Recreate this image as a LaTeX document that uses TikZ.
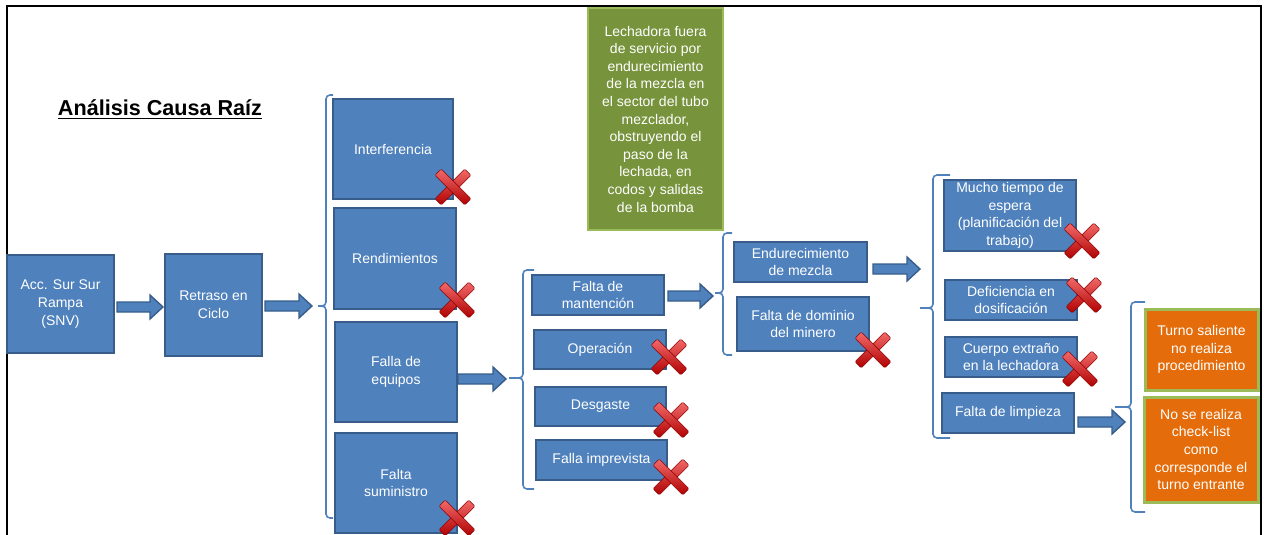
\documentclass[tikz,border=0pt]{standalone}
\usepackage{fontspec}
\setmainfont{Liberation Sans}
\usetikzlibrary{calc}
\definecolor{bxfill}{HTML}{4F81BD}
\definecolor{bxline}{HTML}{385D8A}
\definecolor{grfill}{HTML}{77933C}
\definecolor{grline}{HTML}{9BBB59}
\definecolor{orfill}{HTML}{E46C0A}
\definecolor{xlight}{HTML}{F26A6A}
\definecolor{xdark}{HTML}{B00000}
\definecolor{xedge}{HTML}{8C0000}
\newcommand{\lbracket}[7]{%
  \coordinate (#1) at ({#2-#7},#4);
  \draw[bracket] ({#2+#6},#3) -- (#2,#3) -- (#2,#4) -- (#1);
  \draw[bracket] (#1) -- (#2,#4) -- (#2,#5) -- ({#2+#6},#5);
}
\newcommand{\blockarrow}[2]{%
  \filldraw[barrow] let \p1=#1, \p2=#2 in
    (\x1,\y1+2.5pt) -- (\x2-6.5pt,\y1+2.5pt) -- (\x2-6.5pt,\y1+6pt) -- (\x2,\y1)
    -- (\x2-6.5pt,\y1-6pt) -- (\x2-6.5pt,\y1-2.5pt) -- (\x1,\y1-2.5pt) -- cycle;
}
\begin{document}
\begin{tikzpicture}[x=0.5pt,y=-0.5pt,
  box/.style={draw=bxline, fill=bxfill, line width=0.8pt, text=white, align=center,
    inner sep=0pt, outer sep=0pt, font=\fontsize{7}{8.8}\selectfont},
  greenbox/.style={box, draw=grline, fill=grfill, line width=1pt},
  orangebox/.style={box, draw=grline, fill=orfill, line width=1.5pt},
  bracket/.style={draw=bxfill, line width=0.8pt, rounded corners=2pt},
  barrow/.style={draw=bxline, fill=bxfill, line width=0.7pt, line join=miter},
  xbar/.style={draw=xedge, line width=0.3pt, top color=xlight, bottom color=xdark, rounded corners=0.6pt},
  xmark/.pic={
    \path[xbar, rotate=45] (-10.5pt,-2.2pt) rectangle (10.5pt,2.2pt);
    \path[xbar, rotate=-45] (-10.5pt,-2.2pt) rectangle (10.5pt,2.2pt);
  },
]
\useasboundingbox (0,0) rectangle (1264,535);
% frame
\draw[line width=1pt] (7,535) -- (7,6) -- (1261,6) -- (1261,535);

% title
\node[font=\fontsize{10.8}{13}\selectfont\bfseries] (title) at (160,110) {\underline{Análisis Causa Raíz}};

% boxes
\node[box, minimum width=53.5pt, minimum height=49pt] (acc) at (60.5,304) {Acc. Sur Sur\\Rampa\\(SNV)};
\node[box, minimum width=48.5pt, minimum height=51pt] (ret) at (213.5,305) {Retraso en\\Ciclo};

\node[box, minimum width=60pt, minimum height=50pt] (inter) at (393,149) {Interferencia};
\node[box, minimum width=61pt, minimum height=50.5pt] (rend) at (395,258.5) {Rendimientos};
\node[box, minimum width=61pt, minimum height=50pt] (feq) at (396,372) {Falla de\\equipos};
\node[box, minimum width=61pt, minimum height=50pt] (fsum) at (396,483) {Falta\\suministro};

\node[box, minimum width=66pt, minimum height=20pt] (fman) at (598,295) {Falta de\\mantención};
\node[box, minimum width=66pt, minimum height=19.5pt] (oper) at (600,349.5) {Operación};
\node[box, minimum width=65.5pt, minimum height=19.5pt] (desg) at (600.5,406.5) {Desgaste};
\node[box, minimum width=65.5pt, minimum height=20pt] (fimp) at (601.5,460) {Falla imprevista};

\node[greenbox, minimum width=67.5pt, minimum height=111pt] (green) at (655.5,119)
  {Lechadora fuera\\de servicio por\\endurecimiento\\de la mezcla en\\el sector del tubo\\mezclador,\\obstruyendo el\\paso de la\\lechada, en\\codos y salidas\\de la bomba};

\node[box, minimum width=66.5pt, minimum height=20pt] (endu) at (800.5,262) {Endurecimiento\\de mezcla};
\node[box, minimum width=66pt, minimum height=27pt] (fdom) at (803,324) {Falta de dominio\\del minero};

\node[box, minimum width=66pt, minimum height=35.5pt] (much) at (1010,215.5) {Mucho tiempo de\\espera\\(planificación del\\trabajo)};
\node[box, minimum width=66pt, minimum height=20pt] (defi) at (1011,300) {Deficiencia en\\dosificación};
\node[box, minimum width=66pt, minimum height=20pt] (cuer) at (1011,357) {Cuerpo extraño\\en la lechadora};
\node[box, minimum width=66pt, minimum height=20pt] (flim) at (1008,413) {Falta de limpieza};

\node[orangebox, minimum width=56.5pt, minimum height=40.5pt] (turn) at (1201.5,349.5) {Turno saliente\\no realiza\\procedimiento};
\node[orangebox, minimum width=57pt, minimum height=52.5pt] (nose) at (1201,449.5) {No se realiza\\check-list\\como\\corresponde el\\turno entrante};

% brackets
\lbracket{b1}{326}{95}{306}{518}{7}{8}
\lbracket{b2}{523}{270}{378}{489}{11}{14}
\lbracket{b3}{723}{233}{293}{355}{9}{8}
\lbracket{b4}{933}{175}{308}{438}{17}{13}
\lbracket{b5}{1131}{302}{407}{512}{14}{16}

% block arrows
\coordinate (a5e) at (920,269);
\coordinate (a6e) at (1125,422);
\blockarrow{($(acc.east)+(3,3)$)}{($(ret.west)+(-2,3)$)}
\blockarrow{($(ret.east)+(3,1)$)}{($(b1)+(-6,0)$)}
\blockarrow{($(feq.east)+(1,7)$)}{($(b2)+(-3,0)$)}
\blockarrow{($(fman.east)+(4,1)$)}{($(b3)+(-2,0)$)}
\blockarrow{($(endu.east)+(6,7)$)}{(a5e)}
\blockarrow{($(flim.east)+(4,9)$)}{(a6e)}

% red crosses
\pic at (453,187) {xmark};
\pic at (457,300) {xmark};
\pic at (457,518) {xmark};
\pic at (669,357) {xmark};
\pic at (671,420) {xmark};
\pic at (671,477) {xmark};
\pic at (873,350) {xmark};
\pic at (1082,241) {xmark};
\pic at (1084,295) {xmark};
\pic at (1080,369) {xmark};
\end{tikzpicture}
\end{document}
